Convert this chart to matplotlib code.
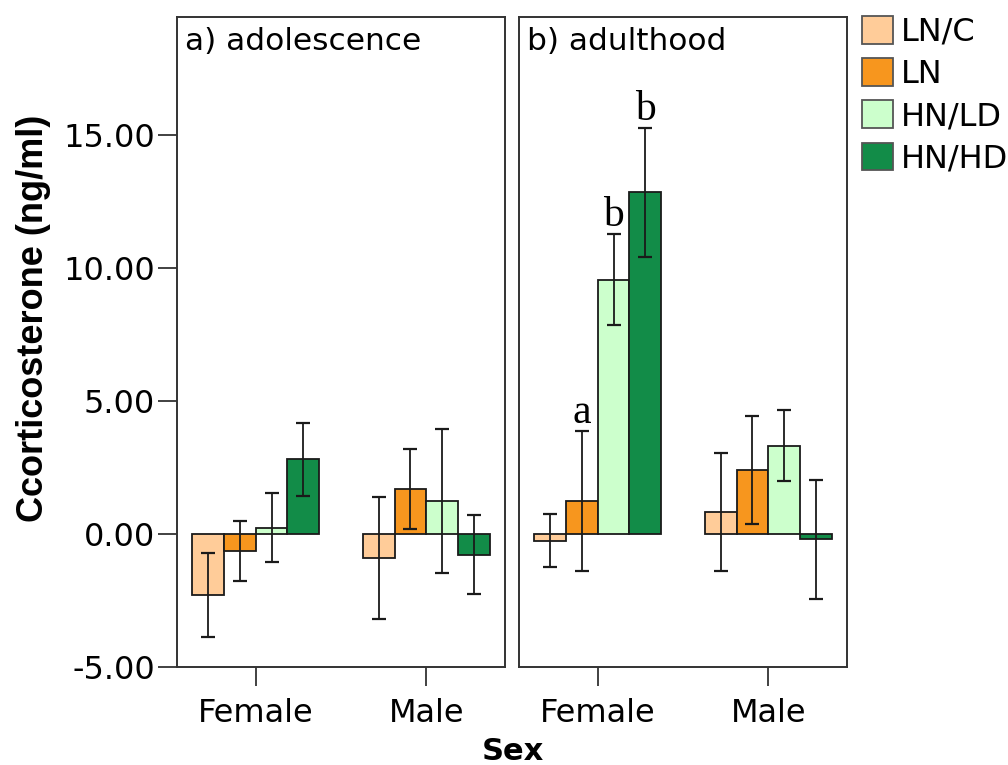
import matplotlib
matplotlib.use("Agg")
import matplotlib.pyplot as plt
from matplotlib.patches import Patch
import numpy as np

# Data: mean corticosterone (ng/ml) and error-bar half-widths
sexes = ["Female", "Male"]
groups = ["LN/C", "LN", "HN/LD", "HN/HD"]
colors = ["#FFCC99", "#F7961E", "#CCFFCC", "#128C48"]

adolescence_mean = {
    "LN/C": [-2.29, -0.91],
    "LN": [-0.64, 1.70],
    "HN/LD": [0.24, 1.23],
    "HN/HD": [2.81, -0.77],
}
adolescence_err = {
    "LN/C": [1.58, 2.30],
    "LN": [1.13, 1.51],
    "HN/LD": [1.30, 2.71],
    "HN/HD": [1.36, 1.47],
}
adulthood_mean = {
    "LN/C": [-0.25, 0.83],
    "LN": [1.24, 2.42],
    "HN/LD": [9.57, 3.33],
    "HN/HD": [12.85, -0.20],
}
adulthood_err = {
    "LN/C": [1.00, 2.22],
    "LN": [2.62, 2.04],
    "HN/LD": [1.71, 1.34],
    "HN/HD": [2.43, 2.25],
}
# Significance letters for adulthood females
adult_letters = {"LN": "a", "HN/LD": "b", "HN/HD": "b"}

plt.rcParams["font.family"] = ["DejaVu Sans"]

fig = plt.figure(figsize=(10.08, 7.65), dpi=100)
W, H = 1008, 765
ax_a = fig.add_axes([177 / W, 1 - 667 / H, 328 / W, 650 / H])
ax_b = fig.add_axes([519 / W, 1 - 667 / H, 328 / W, 650 / H])

bar_w = 0.186
x = np.arange(len(sexes))
offsets = (np.arange(len(groups)) - 1.5) * bar_w
edge = "#1a1a1a"


def draw_panel(ax, means, errs, title, letters=None):
    for i, g in enumerate(groups):
        xs = x + offsets[i]
        ax.bar(xs, means[g], width=bar_w, color=colors[i], edgecolor=edge,
               linewidth=1.3, zorder=2)
        ax.errorbar(xs, means[g], yerr=errs[g], fmt="none", ecolor="#1a1a1a",
                    elinewidth=1.3, capsize=5, capthick=1.6, zorder=3)
        if letters and g in letters:
            top = means[g][0] + errs[g][0]
            ax.annotate(letters[g], xy=(xs[0], top), xytext=(0, 6),
                        textcoords="offset points", ha="center", va="baseline",
                        fontsize=30, family="Liberation Serif")
    ax.set_xlim(-0.462, 1.462)
    ax.set_ylim(-5, 19.45)
    ax.set_xticks(x)
    ax.set_xticklabels(sexes, fontsize=23)
    for s in ax.spines.values():
        s.set_color("#333333")
        s.set_linewidth(1.4)
    ax.tick_params(axis="both", direction="out", length=14, width=1.3,
                   color="#333333")
    ax.tick_params(axis="x", pad=8)
    ax.text(0.025, 0.985, title, transform=ax.transAxes, ha="left", va="top",
            fontsize=22.5)


draw_panel(ax_a, adolescence_mean, adolescence_err, "a) adolescence")
draw_panel(ax_b, adulthood_mean, adulthood_err, "b) adulthood", adult_letters)

ax_a.set_yticks([-5, 0, 5, 10, 15])
ax_a.set_yticklabels([f"{v:.2f}" for v in [-5, 0, 5, 10, 15]], fontsize=23)
ax_a.tick_params(axis="y", pad=2)
ax_b.tick_params(axis="y", left=False, labelleft=False)

fig.text(34 / W, 1 - 318 / H, "Ccorticosterone (ng/ml)", rotation=90,
         ha="center", va="center", fontsize=26, fontweight="bold",
         family="Liberation Sans")
fig.text(513 / W, 1 - 751 / H, "Sex", ha="center", va="center",
         fontsize=22, fontweight="bold")

handles = [Patch(facecolor=c, edgecolor="#555555", linewidth=1.3) for c in colors]
fig.legend(handles, groups, loc="upper left",
           bbox_to_anchor=(862 / W, 1 - 16 / H), frameon=False,
           fontsize=23, handlelength=0.97, handleheight=0.97,
           handletextpad=0.25, labelspacing=0.32, borderpad=0,
           borderaxespad=0)

fig.savefig("out.png", dpi=100)
